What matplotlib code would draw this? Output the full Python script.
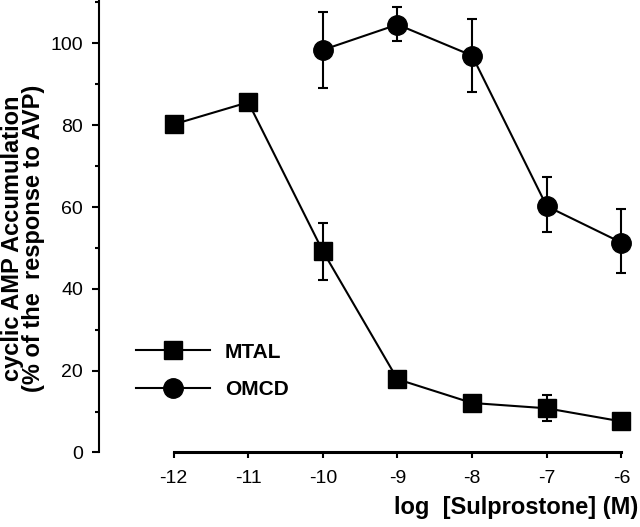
import matplotlib
matplotlib.use("Agg")
import matplotlib.pyplot as plt
from matplotlib.ticker import MultipleLocator

plt.rcParams['font.family'] = ['Liberation Sans', 'DejaVu Sans']

log_conc = [-12, -11, -10, -9, -8, -7, -6]
mtal = [80.2, 85.6, 49.2, 17.9, 12.1, 10.8, 7.6]
mtal_err = [0, 0, 7.0, 0, 0, 3.2, 0]

omcd_x = [-10, -9, -8, -7, -6]
omcd = [98.4, 104.6, 97.0, 60.2, 51.3]
omcd_err_low = [9.2, 4.0, 8.8, 6.2, 7.4]
omcd_err_high = [9.3, 4.3, 8.9, 7.1, 8.1]

xticks = [-12, -11, -10, -9, -8, -7, -6]
yticks = [0, 20, 40, 60, 80, 100]

fig = plt.figure(figsize=(6.4, 5.27), dpi=100)
ax = fig.add_axes([0.1547, 0.1414, 0.8453, 0.8586])

ax.errorbar(log_conc, mtal, yerr=mtal_err, fmt='none', ecolor='black',
            elinewidth=1.5, capsize=3.5, capthick=1.5)
ax.errorbar(omcd_x, omcd, yerr=[omcd_err_low, omcd_err_high], fmt='none', ecolor='black',
            elinewidth=1.5, capsize=3.5, capthick=1.5)
ax.plot(log_conc, mtal, color='black', marker='s', markersize=13.5, linewidth=1.5,
        label='MTAL')
ax.plot(omcd_x, omcd, color='black', marker='o', markersize=14, linewidth=1.5,
        label='OMCD')

ax.set_xlim(-13, -5.75)
ax.set_ylim(0, 110.6)
ax.spines['top'].set_visible(False)
ax.spines['right'].set_visible(False)
ax.spines['bottom'].set_bounds(-12, -6)
ax.spines['left'].set_linewidth(1.5)
ax.spines['bottom'].set_linewidth(2.2)

ax.set_xticks(xticks)
ax.set_xticklabels([str(t) for t in xticks])
ax.set_yticks(yticks)
ax.yaxis.set_minor_locator(MultipleLocator(10))
ax.tick_params(axis='both', which='major', labelsize=14, direction='out', width=1.5)
ax.tick_params(axis='y', which='major', length=5.4, pad=6)
ax.tick_params(axis='y', which='minor', length=2.9, width=1.5)
ax.tick_params(axis='x', which='major', length=4.3, pad=8)

fig.text(0.036, 0.547, 'cyclic AMP Accumulation\n(% of the  response to AVP)', rotation=90,
         ha='center', va='center', fontsize=17, fontweight='bold', linespacing=0.9)
fig.text(0.997, 0.0247, 'log  [Sulprostone] (M)', ha='right', va='baseline',
         fontsize=17, fontweight='bold')

leg = fig.legend(loc='upper left', bbox_to_anchor=(0.2125, 0.35), frameon=False,
                 prop={'weight': 'bold', 'size': 15}, handlelength=3.55,
                 handletextpad=0.72, labelspacing=0.88, numpoints=1,
                 borderpad=0, borderaxespad=0)

fig.savefig('out.png', dpi=100)
